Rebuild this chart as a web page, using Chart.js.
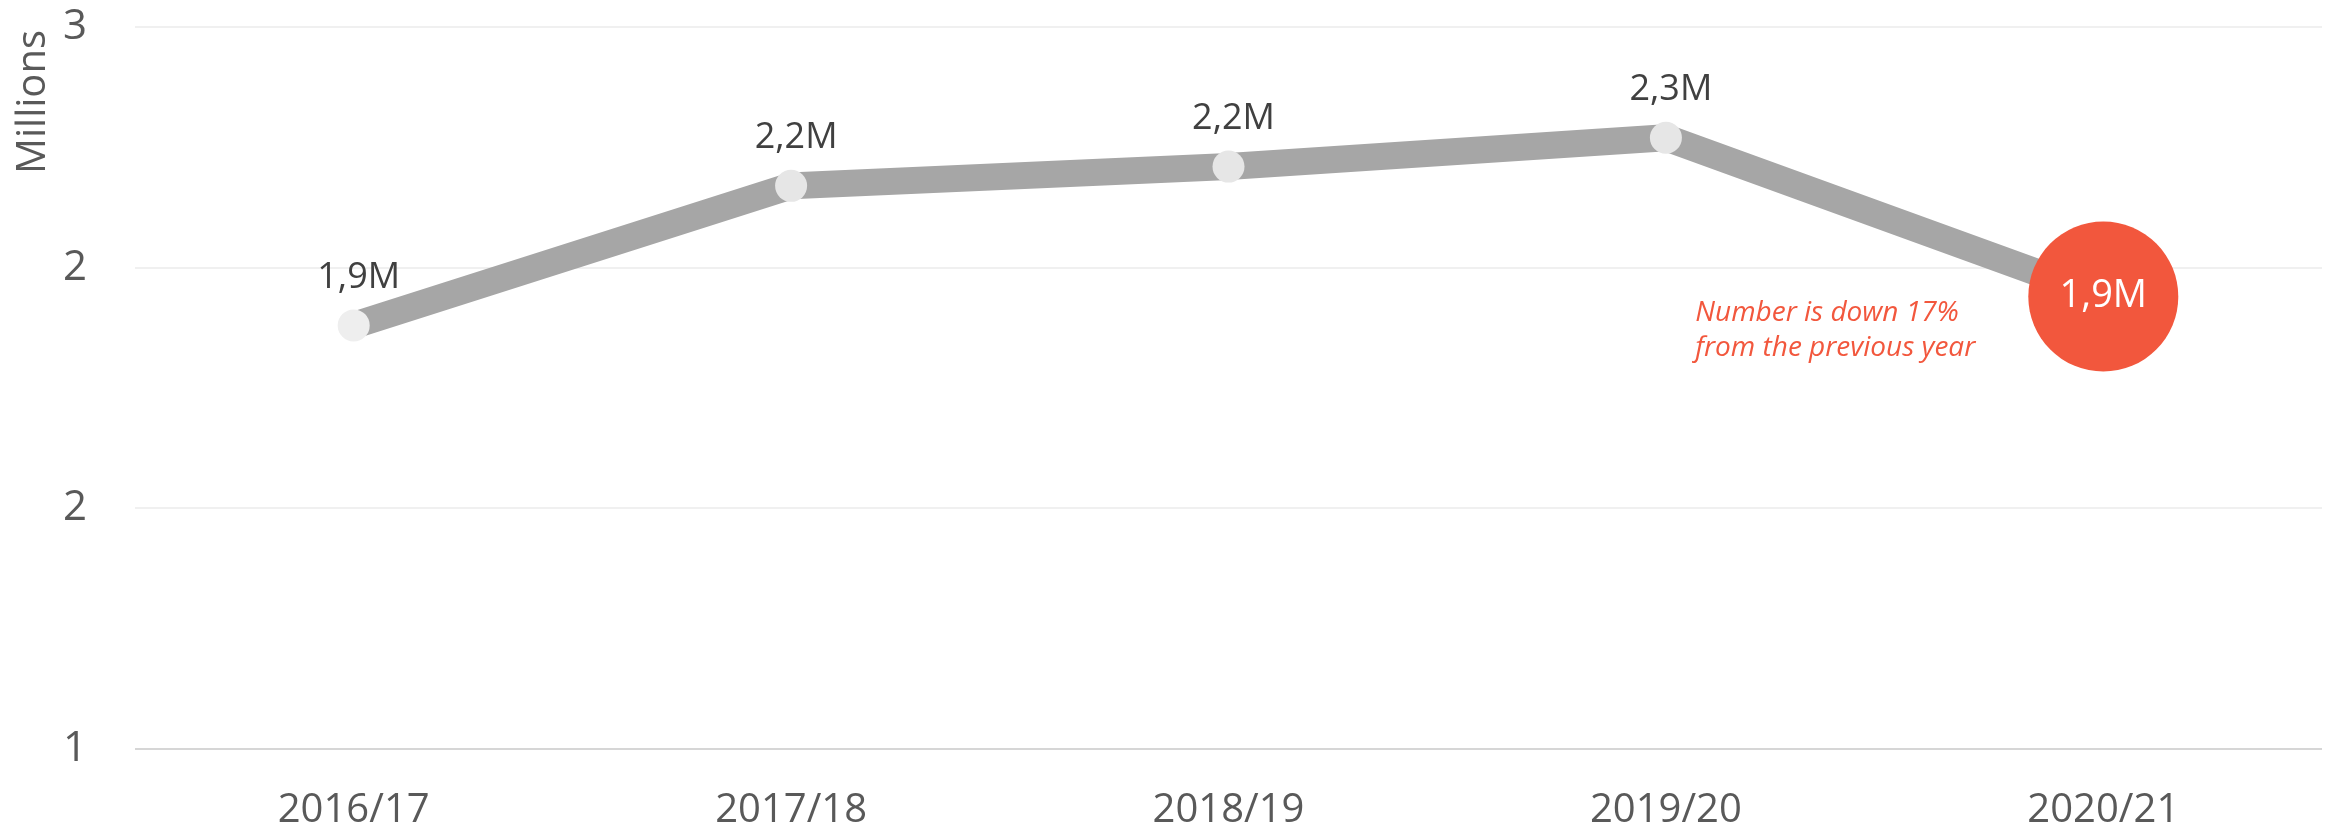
<!DOCTYPE html>
<html>
<head>
<meta charset="utf-8">
<script src="https://cdn.jsdelivr.net/npm/chart.js@4"></script>
<style>
  html, body { margin: 0; padding: 0; background: #fff; }
  #wrap { width: 2326px; height: 834px; }
</style>
</head>
<body>
<div id="wrap"><canvas id="myChart"></canvas></div>
<script>
const years = ['2016/17', '2017/18', '2018/19', '2019/20', '2020/21'];
const visitors = [1.88, 2.17, 2.21, 2.27, 1.94];   // millions
const valueLabels = ['1,9M', '2,2M', '2,2M', '2,3M', '1,9M'];
const note = ['Number is down 17%', 'from the previous year'];
const yTitle = 'Millions';
const yMin = 1, yMax = 2.5, yStep = 0.5;

const FONT = '"Open Sans", "Noto Sans", sans-serif';
const RED = '#f2573d';

// labels above the points, the last one inside the big red dot, plus the note
const labelPlugin = {
  id: 'labels',
  afterDatasetsDraw(chart) {
    const ctx = chart.ctx;
    const pts = chart.getDatasetMeta(0).data;
    ctx.save();
    ctx.textAlign = 'center';
    ctx.textBaseline = 'middle';
    pts.forEach((p, i) => {
      if (i == pts.length - 1) {
        ctx.fillStyle = '#ffffff';
        ctx.font = '38px ' + FONT;
        ctx.fillText(valueLabels[i], p.x, p.y);
      } else {
        ctx.fillStyle = '#404040';
        ctx.font = '36px ' + FONT;
        ctx.fillText(valueLabels[i], p.x + 5, p.y - 48);
      }
    });
    const last = pts[pts.length - 1];
    ctx.fillStyle = RED;
    ctx.font = 'italic 28px ' + FONT;
    ctx.textAlign = 'left';
    ctx.fillText(note[0], last.x - 408, last.y + 16);
    ctx.fillText(note[1], last.x - 408, last.y + 51);

    // y axis title, rotated, ending a bit below the top of the plot
    const area = chart.chartArea;
    ctx.translate(34, area.top + 3);
    ctx.rotate(-Math.PI / 2);
    ctx.textAlign = 'right';
    ctx.fillStyle = '#595959';
    ctx.font = '40px ' + FONT;
    ctx.fillText(yTitle, 0, 0);
    ctx.restore();
  }
};

const ctx = document.getElementById('myChart');
new Chart(ctx, {
  type: 'line',
  data: {
    labels: years,
    datasets: [{
      data: visitors,
      borderColor: '#a6a6a6',
      borderWidth: 27,
      tension: 0,
      clip: false,
      pointRadius: [16, 16, 16, 16, 75],
      pointHoverRadius: [16, 16, 16, 16, 75],
      pointBorderWidth: 0,
      pointBackgroundColor: ['#eeeeee', '#e6e6e6', '#e6e6e6', '#e6e6e6', RED]
    }]
  },
  options: {
    responsive: true,
    maintainAspectRatio: false,
    animation: false,
    layout: { autoPadding: false, padding: { top: 27, right: 4, left: 0, bottom: 0 } },
    plugins: { legend: { display: false }, tooltip: { enabled: false } },
    scales: {
      x: {
        offset: true,
        grid: { display: false },
        border: { display: false },
        ticks: { color: '#595959', font: { family: FONT, size: 40 }, padding: 30 },
        afterFit(scale) {
          scale.height = 85;
          scale.paddingLeft = 0;
          scale.paddingRight = 0;
        }
      },
      y: {
        min: yMin,
        max: yMax,
        border: { display: false },
        grid: {
          color: c => c.tick && c.tick.value == yMin ? '#d6d6d6' : '#f0f0f0',
          lineWidth: 2,
          drawTicks: false
        },
        ticks: {
          stepSize: yStep,
          color: '#595959',
          padding: 48,
          font: { family: FONT, size: 42 },
          callback: v => Math.round(v)
        },
        afterFit(scale) {
          scale.width = 135;
          scale.paddingTop = 0;
          scale.paddingBottom = 0;
        }
      }
    }
  },
  plugins: [labelPlugin]
});
</script>
</body>
</html>
